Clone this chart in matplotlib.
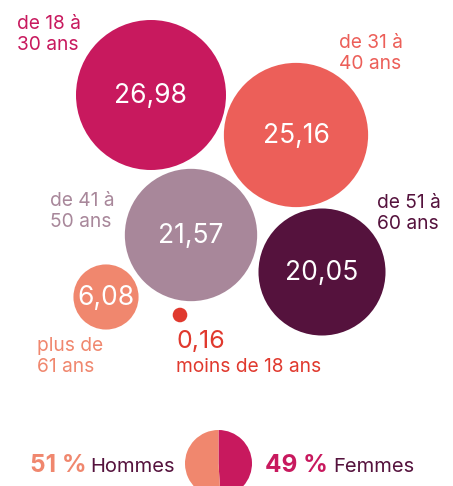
import numpy as np
import matplotlib
matplotlib.use("Agg")
import matplotlib.pyplot as plt
from matplotlib.patches import Circle

plt.rcParams['font.family'] = ['Inter', 'DejaVu Sans']

# Données : répartition par âge (%)
tranches = ["de 18 à\n30 ans", "de 31 à\n40 ans", "de 41 à\n50 ans",
            "de 51 à\n60 ans", "plus de\n61 ans", "moins de 18 ans"]
valeurs = [26.98, 25.16, 21.57, 20.05, 6.08, 0.16]

# Données : répartition par sexe (%)
sexes = ["Hommes", "Femmes"]
parts = [51, 49]

couleurs = ["#C8195E", "#EC5F59", "#A8879A", "#55123D", "#F0876E", "#E0392E"]
plum = "#55123D"

# centres des bulles (pixels) et position des étiquettes (ligne du bas)
centres = [(151, 95), (296, 135), (191, 235), (322, 272), (106, 297), (180, 315)]
pos_labels = [(17, 50), (339, 69), (50, 227), (377, 229), (37, 372), (176, 372)]


def fr(v):
    return f"{v:.2f}".replace(".", ",")


def rayon(v):
    # surface ~ valeur, avec un rayon minimum pour la petite bulle
    return max(75 * (v / max(valeurs)) ** 0.56, 7.3)


fig = plt.figure(figsize=(4.53, 4.86), dpi=100)
ax = fig.add_axes([0, 0, 1, 1])
ax.set_xlim(0, 453)
ax.set_ylim(486, 0)
ax.set_aspect('equal')
ax.axis('off')

for i, v in enumerate(valeurs):
    cx, cy = centres[i]
    ax.add_patch(Circle((cx, cy), rayon(v), color=couleurs[i], lw=0))
    lx, ly = pos_labels[i]
    if v >= 5:
        ax.text(cx, cy + 1, fr(v), color='white', fontsize=19,
                ha='center', va='center')
    else:
        ax.text(176, 348, fr(v), color=couleurs[i], fontsize=18,
                ha='left', va='baseline')
    ax.text(lx, ly, tranches[i], color=couleurs[i], fontsize=13.8,
            ha='left', va='baseline', linespacing=1.2)

# camembert hommes / femmes (coupé par le bas de l'image)
ax_pie = fig.add_axes([185 / 453, 1 - 497 / 486, 67 / 453, 67 / 486])
ax_pie.pie(parts[::-1], colors=[couleurs[0], couleurs[4]], startangle=90,
           counterclock=False, wedgeprops=dict(lw=0))
ax_pie.set_xlim(-1, 1)
ax_pie.set_ylim(-1, 1)
ax_pie.set_aspect('equal')

ax.text(30, 472, f"{parts[0]} %", color=couleurs[4], fontsize=17.5,
        fontweight='bold', ha='left', va='baseline')
ax.text(90, 472, sexes[0], color=plum, fontsize=14.5,
        ha='left', va='baseline')
ax.text(265, 472, f"{parts[1]} %", color=couleurs[0], fontsize=17.5,
        fontweight='bold', ha='left', va='baseline')
ax.text(333, 472, sexes[1], color=plum, fontsize=14.5,
        ha='left', va='baseline')

fig.savefig("out.png", dpi=100)
